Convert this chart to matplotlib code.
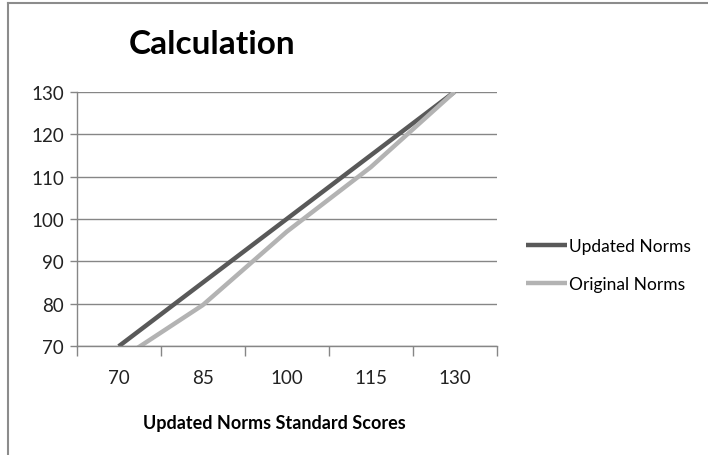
import matplotlib
matplotlib.use("Agg")
import matplotlib.pyplot as plt
from matplotlib.lines import Line2D
import numpy as np

categories = ["70", "85", "100", "115", "130"]
updated_norms = [70, 85, 100, 115, 130]
original_norms = [66.7, 79.7, 97, 112.2, 130]
y_ticks = [70, 80, 90, 100, 110, 120, 130]

plt.rcParams['font.family'] = ['Lato', 'DejaVu Sans']

W, H = 708, 456
fig = plt.figure(figsize=(W/100, H/100), dpi=100)
ax = fig.add_axes([76.7/W, 1-347.3/H, (496.7-76.7)/W, (347.3-92.7)/H])

x = np.arange(len(categories))
ax.plot(x, updated_norms, color="#595959", lw=3.2, label="Updated Norms", solid_capstyle="butt")
ax.plot(x, original_norms, color="#b3b3b3", lw=3.2, label="Original Norms", solid_capstyle="butt")

ax.set_xlim(-0.5, len(categories)-0.5)
ax.set_ylim(70, 130)
ax.set_yticks(y_ticks)
ax.set_xticks(x)
ax.set_xticklabels(categories)
ax.set_xticks(np.arange(-0.5, len(categories)), minor=True)
ax.tick_params(axis='x', which='major', length=0, pad=16, labelsize=13.5, colors="#222222")
ax.tick_params(axis='x', which='minor', length=7, width=1, color="#868686")
ax.tick_params(axis='y', length=5, width=1, color="#868686", pad=4, labelsize=13.5, labelcolor="#222222")
ax.grid(axis='y', color="#868686", lw=1)
ax.set_axisbelow(True)
for s in ['top', 'right']:
    ax.spines[s].set_visible(False)
for s in ['left', 'bottom']:
    ax.spines[s].set_color("#868686")
    ax.spines[s].set_linewidth(1)

fig.text(212/W, 1-45/H, "Calculation", ha="center", va="center", fontsize=24, fontweight="bold", color="#000000")
fig.text(274/W, 1-423/H, "Updated Norms Standard Scores", ha="center", va="center", fontsize=13, fontweight="bold", color="#000000")

leg = fig.legend(loc="center left", bbox_to_anchor=(510/W, 1-266/H), frameon=False,
                 fontsize=12.5, handlelength=2.4, handletextpad=0.12, labelspacing=1.25)

# chart area border (left and top edges visible)
fig.add_artist(Line2D([7.5/W, 7.5/W], [0, 1-4/H], transform=fig.transFigure, color="#8c8c8c", lw=1.5))
fig.add_artist(Line2D([7.5/W, 1], [1-4/H, 1-4/H], transform=fig.transFigure, color="#8c8c8c", lw=1.5))

fig.savefig("out.png", dpi=100)
